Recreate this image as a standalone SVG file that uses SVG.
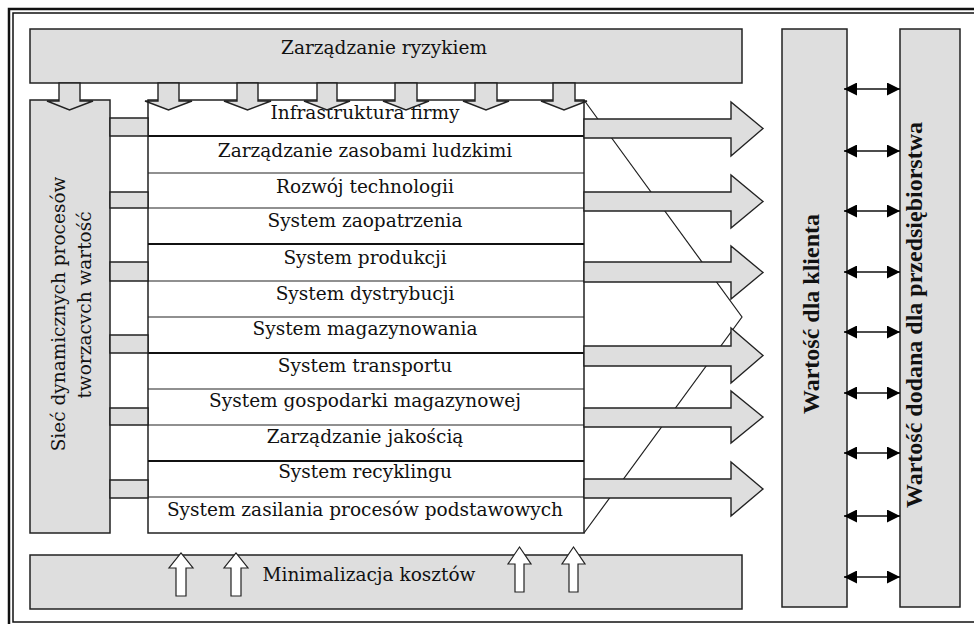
<svg xmlns="http://www.w3.org/2000/svg" width="974" height="624" viewBox="0 0 974 624">
  <defs>
    <style>
      .box { fill: #dedede; stroke: #222; stroke-width: 1.5; }
      .wbox { fill: #ffffff; stroke: #222; stroke-width: 1.5; }
      .blk { fill: #dedede; stroke: #222; stroke-width: 1.4; stroke-linejoin: miter; }
      .up { fill: #ffffff; stroke: #222; stroke-width: 1.2; }
      .thin { stroke: #222; stroke-width: 1.2; fill: none; }
      .thick { stroke: #111; stroke-width: 2.2; fill: none; }
      .dbl { stroke: #111; stroke-width: 1.5; fill: none; marker-start: url(#ah); marker-end: url(#ah); }
      .t { font-family: "DejaVu Serif", "Liberation Serif", serif; font-size: 18.5px; fill: #111; text-anchor: middle; }
      .b { font-family: "Liberation Serif", "DejaVu Serif", serif; font-size: 24px; font-weight: bold; fill: #111; text-anchor: middle; }
    </style>
    <marker id="ah" viewBox="0 0 13 13" refX="13" refY="6.5" markerWidth="13" markerHeight="13" markerUnits="userSpaceOnUse" orient="auto-start-reverse">
      <path d="M0,0 L13,6.5 L0,13 z" fill="#000"/>
    </marker>
  </defs>

  <rect x="0" y="0" width="974" height="624" fill="#ffffff"/>

  <!-- outer double frame -->
  <g id="frame">
    <rect x="9" y="9" width="990" height="630" fill="none" stroke="#111" stroke-width="2.5"/>
    <rect x="13" y="13" width="990" height="609" fill="none" stroke="#111" stroke-width="1.5"/>
  </g>

  <!-- chevron outline behind the output arrows -->
  <g id="chevron">
    <polyline class="thin" points="584,100 742,317 584,533"/>
  </g>

  <g id="risk">
    <rect class="box" x="30" y="29" width="712" height="54"/>
    <text class="t" x="384" y="54">Zarządzanie ryzykiem</text>
  </g>

  <g id="network">
    <rect class="box" x="30" y="100" width="80" height="433"/>
    <text class="t" transform="translate(65,314) rotate(-90)">Sieć dynamicznych procesów</text>
    <text class="t" transform="translate(91,305) rotate(-90)">tworzacvch wartość</text>
  </g>

  <g id="costs">
    <rect class="box" x="30" y="555" width="712" height="54"/>
    <text class="t" x="369" y="581">Minimalizacja kosztów</text>
  </g>

  <g id="client-value">
    <rect class="box" x="782" y="29" width="65" height="578"/>
    <text class="b" transform="translate(819,314) rotate(-90)">Wartość dla klienta</text>
  </g>

  <g id="added-value">
    <rect class="box" x="900" y="29" width="60" height="578"/>
    <text class="b" transform="translate(922,315) rotate(-90)">Wartość dodana dla przedsiębiorstwa</text>
  </g>

  <g id="processes">
    <rect class="wbox" x="148" y="100" width="436" height="433"/>
    <line class="thick" x1="148" y1="136" x2="584" y2="136"/>
    <line class="thin" x1="148" y1="173" x2="584" y2="173"/>
    <line class="thin" x1="148" y1="208" x2="584" y2="208"/>
    <line class="thick" x1="148" y1="244" x2="584" y2="244"/>
    <line class="thin" x1="148" y1="281" x2="584" y2="281"/>
    <line class="thin" x1="148" y1="317" x2="584" y2="317"/>
    <line class="thick" x1="148" y1="353" x2="584" y2="353"/>
    <line class="thin" x1="148" y1="389" x2="584" y2="389"/>
    <line class="thin" x1="148" y1="425" x2="584" y2="425"/>
    <line class="thick" x1="148" y1="461" x2="584" y2="461"/>
    <line class="thin" x1="148" y1="497" x2="584" y2="497"/>
    <text class="t" x="365" y="119">Infrastruktura firmy</text>
    <text class="t" x="365" y="157">Zarządzanie zasobami ludzkimi</text>
    <text class="t" x="365" y="193">Rozwój technologii</text>
    <text class="t" x="365" y="227">System zaopatrzenia</text>
    <text class="t" x="365" y="264">System produkcji</text>
    <text class="t" x="365" y="300">System dystrybucji</text>
    <text class="t" x="365" y="335">System magazynowania</text>
    <text class="t" x="365" y="372">System transportu</text>
    <text class="t" x="365" y="407">System gospodarki magazynowej</text>
    <text class="t" x="365" y="443">Zarządzanie jakością</text>
    <text class="t" x="365" y="478">System recyklingu</text>
    <text class="t" x="365" y="516">System zasilania procesów podstawowych</text>
  </g>

  <g id="connectors">
    <!-- links from network box to process table -->
    <rect class="box" x="110" y="118" width="38" height="18"/>
    <rect class="box" x="110" y="192" width="38" height="16"/>
    <rect class="box" x="110" y="262" width="38" height="19"/>
    <rect class="box" x="110" y="335" width="38" height="18"/>
    <rect class="box" x="110" y="408" width="38" height="17"/>
    <rect class="box" x="110" y="480" width="38" height="18"/>

    <!-- output block arrows -->
    <polygon class="blk" points="584,119 731,119 731,102 763,128.5 731,156 731,138 584,138"/>
    <polygon class="blk" points="584,192 731,192 731,175 763,201.5 731,228 731,211 584,211"/>
    <polygon class="blk" points="584,262 731,262 731,246 763,272.5 731,299 731,282 584,282"/>
    <polygon class="blk" points="584,346 731,346 731,328 763,355.5 731,383 731,366 584,366"/>
    <polygon class="blk" points="584,408 731,408 731,391 763,417 731,443 731,427 584,427"/>
    <polygon class="blk" points="584,479 731,479 731,462 763,489 731,516 731,498 584,498"/>

    <!-- risk management down arrows -->
    <polygon class="blk" points="59,83 80,83 80,101 93,101 69.5,110 47,101 59,101"/>
    <polygon class="blk" points="158,83 179,83 179,101 192,101 168.5,110 145,101 158,101"/>
    <polygon class="blk" points="237,83 258,83 258,101 271,101 247.5,110 224,101 237,101"/>
    <polygon class="blk" points="317,83 337,83 337,101 350,101 327,110 304,101 317,101"/>
    <polygon class="blk" points="395,83 417,83 417,101 429,101 406,110 383,101 395,101"/>
    <polygon class="blk" points="475,83 497,83 497,101 509,101 486,110 463,101 475,101"/>
    <polygon class="blk" points="553,83 575,83 575,101 587,101 564,110 541,101 553,101"/>

    <!-- cost minimisation up arrows -->
    <polygon class="up" points="176,596 176,568 169,568 181,553 193,568 186,568 186,596"/>
    <polygon class="up" points="231,596 231,568 224,568 236,553 248,568 241,568 241,596"/>
    <polygon class="up" points="515,592 515,564 508,564 519.5,547 531,564 524,564 524,592"/>
    <polygon class="up" points="569,592 569,564 562,564 573.5,547 585,564 578,564 578,592"/>

    <!-- value exchange double arrows -->
    <line class="dbl" x1="844" y1="89" x2="900" y2="89"/>
    <line class="dbl" x1="844" y1="151" x2="900" y2="151"/>
    <line class="dbl" x1="844" y1="211" x2="900" y2="211"/>
    <line class="dbl" x1="844" y1="272" x2="900" y2="272"/>
    <line class="dbl" x1="844" y1="332" x2="900" y2="332"/>
    <line class="dbl" x1="844" y1="393" x2="900" y2="393"/>
    <line class="dbl" x1="844" y1="453" x2="900" y2="453"/>
    <line class="dbl" x1="844" y1="516" x2="900" y2="516"/>
    <line class="dbl" x1="844" y1="577" x2="900" y2="577"/>
  </g>
</svg>
